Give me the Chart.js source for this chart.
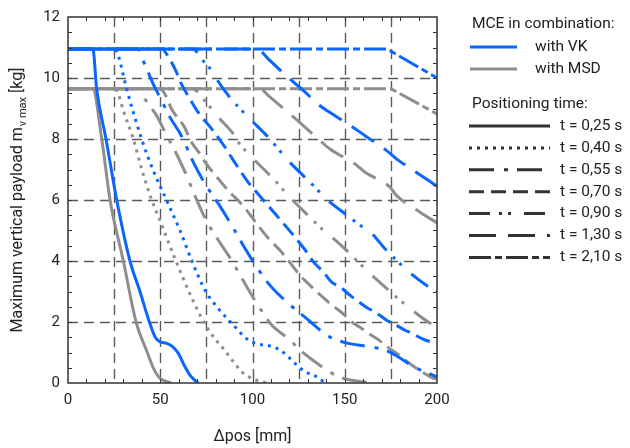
<!DOCTYPE html>
<html>
<head>
<meta charset="utf-8">
<script src="https://cdn.jsdelivr.net/npm/chart.js@4.4.0/dist/chart.umd.min.js"></script>
<style>
  html, body { margin: 0; padding: 0; background: #fff; }
</style>
</head>
<body>
<canvas id="chart" width="630" height="448"></canvas>
<script>
// Axis ticks and grid
const xTicks = [0, 50, 100, 150, 200];
const yTicks = [0, 2, 4, 6, 8, 10, 12];
const xGrid = [25, 50, 75, 100, 125, 150, 175];
const yGrid = [2, 4, 6, 8, 10];

const timeLabels = ['t = 0,25 s', 't = 0,40 s', 't = 0,55 s', 't = 0,70 s', 't = 0,90 s', 't = 1,30 s', 't = 2,10 s'];

// MCE with VK  [Δpos mm, payload kg]
const vk025 = [[0,10.95],[13.5,10.95],[15.5,9.65],[20.6,8],[26.4,6],[33.6,4],[39,3],[44.1,2],[47.2,1.51],[49.9,1.35],[53.5,1.3],[56.5,1.2],[59.8,0.97],[63.4,0.53],[66.1,0.26],[68.5,0.1],[70.5,0]];
const vk040 = [[0,10.95],[25.5,10.95],[27.3,10.73],[31.8,9.64],[39.9,8],[46,7],[53.5,5.98],[60.7,5.0],[67,4.02],[74.3,3.04],[81.5,2.44],[89.6,1.9],[97.7,1.41],[103.1,1.28],[109.5,1.21],[114.9,1.08],[119.4,0.86],[124,0.59],[128.5,0.37],[134,0.23],[139.5,0]];
const vk055 = [[0,10.95],[38,10.95],[40.8,10.56],[43.5,10.18],[46.2,9.8],[49.9,9.36],[55.3,8.71],[61.5,8.1],[67.9,7.24],[74.3,6.53],[81.5,5.88],[88.7,5.17],[95,4.51],[102.3,3.8],[109.5,3.2],[119.4,2.61],[129.4,2.11],[140.2,1.57],[145.6,1.41],[151.9,1.3],[165.5,1.17],[171.8,1.08],[177.2,0.92],[189,0.48],[195.3,0.32],[200,0.2]];
const vk070 = [[0,10.95],[51,10.95],[53.5,10.78],[58.9,10.18],[60.7,9.9],[66.1,9.31],[70.6,8.87],[77.9,8.33],[85.1,7.73],[87.4,7.51],[97.7,6.58],[101.4,6.31],[113.1,5.49],[123,4.78],[129.4,4.29],[133,3.97],[138.4,3.64],[142.9,3.31],[147.4,3.15],[152.8,2.88],[156.5,2.71],[162.8,2.44],[166.4,2.33],[172.7,2.06],[176.3,1.95],[182.7,1.73],[186.3,1.63],[193.5,1.41],[200,1.3]];
const vk090 = [[0,10.95],[68,10.95],[69.8,10.85],[73.3,10.56],[77.9,10.24],[80.6,9.96],[87.8,9.36],[99.6,8.6],[108.6,8.05],[119.4,7.29],[131.2,6.58],[141.1,5.98],[150.1,5.55],[158.3,5.17],[164.7,4.9],[171.8,4.4],[179,3.97],[183.6,3.7],[194.4,3.2],[200,3.02]];
const vk130 = [[0,10.95],[102.5,10.95],[108.6,10.62],[120.3,9.96],[125.7,9.69],[136.6,9.09],[142,8.87],[154.6,8.38],[161,8.11],[172.7,7.62],[178,7.35],[189.9,6.86],[200,6.45]];
const vk210 = [[0,10.95],[173,10.95],[200,10.0]];

// MCE with MSD
const msd025 = [[0,9.65],[13.4,9.65],[18.3,8],[22.8,6],[30,4],[36.9,2],[43,1],[46.2,0.5],[48.5,0.25],[50.5,0.12],[56,0]];
const msd040 = [[0,9.65],[25.5,9.65],[27.3,9.47],[30,8.93],[35.4,8],[40,7],[45.4,6],[50,5.3],[58.5,4],[65.2,3.04],[72.5,2.12],[78.8,1.51],[83.3,1.19],[89.6,0.7],[94.1,0.37],[98,0.2],[104,0.06],[109,0]];
const msd055 = [[0,9.65],[39,9.65],[41.7,9.31],[43.5,9.15],[48.1,8.76],[51.7,8.33],[58.9,7.5],[64.3,6.8],[69.4,6.05],[75.2,5.3],[81.5,4.68],[88.7,4.02],[92.3,3.64],[95.9,3.26],[102.3,2.61],[105.9,2.28],[110.4,1.9],[120.3,1.41],[124.8,1.13],[130.2,0.86],[140.2,0.43],[146.5,0.21],[152.8,0.1],[166.4,0]];
const msd070 = [[0,9.65],[50,9.65],[53.5,9.36],[56,9.0],[63,8.4],[67,7.89],[71.5,7.51],[74.3,7.24],[80,6.8],[87.8,6.25],[92.3,5.98],[96.9,5.66],[102.3,5.22],[109.5,4.68],[114.9,4.35],[119.4,4.02],[125.7,3.53],[130.2,3.26],[134.8,2.99],[141,2.66],[145.6,2.44],[150.1,2.22],[153.8,2.0],[159.2,1.79],[162.8,1.63],[169.1,1.38],[172.7,1.2],[178.2,0.97],[186.3,0.59],[196.2,0.21],[200,0.12]];
const msd090 = [[0,9.65],[67.5,9.65],[73.3,9.31],[77.9,8.98],[81.5,8.71],[89.6,8.17],[92.3,7.9],[102.3,7.24],[110.4,6.75],[120.3,6.09],[130.2,5.49],[136.6,5.11],[142,4.84],[150.1,4.4],[158.3,3.91],[162.8,3.64],[171.8,3.15],[180,2.71],[184.4,2.49],[195.3,2.0],[200,1.85]];
const msd130 = [[0,9.65],[104,9.65],[108.6,9.42],[120.3,8.82],[125.7,8.54],[136.6,7.95],[142,7.67],[155.6,7.18],[161,6.91],[174.5,6.42],[178,6.15],[190.8,5.6],[200,5.25]];
const msd210 = [[0,9.65],[175,9.65],[200,8.82]];

const vkSeries = [vk025, vk040, vk055, vk070, vk090, vk130, vk210];
const msdSeries = [msd025, msd040, msd055, msd070, msd090, msd130, msd210];

const BLUE = '#0a66ff';
const GREY = '#8e8e8e';
const INK = '#222';
// one dash pattern per positioning time
const dashes = [[], [3, 5], [25, 10, 4, 9], [15, 7], [21, 9, 3, 6, 3, 13], [27, 12], [22, 4, 7, 4]];

function toPoints(arr) {
  return arr.map(p => ({ x: p[0], y: p[1] }));
}

function makeSet(label, s, color, i) {
  const straight = s.length < 4; // plateau + straight ramp
  return {
    label: label + ', ' + timeLabels[i],
    data: toPoints(s),
    borderColor: color,
    borderWidth: 3,
    borderDash: dashes[i],
    pointRadius: 0,
    showLine: true,
    tension: 0,
    cubicInterpolationMode: straight ? 'default' : 'monotone'
  };
}

const datasets = [];
// VK first so it is drawn on top
vkSeries.forEach((s, i) => datasets.push(makeSet('with VK', s, BLUE, i)));
msdSeries.forEach((s, i) => datasets.push(makeSet('with MSD', s, GREY, i)));

const framePlugin = {
  id: 'frame',
  beforeDatasetsDraw(chart) {
    const { ctx, chartArea: a, scales: { x, y } } = chart;
    ctx.save();
    ctx.strokeStyle = '#5a5a5a';
    ctx.lineWidth = 1.4;
    ctx.setLineDash([10, 6]);
    xGrid.forEach(v => {
      const px = Math.round(x.getPixelForValue(v)) + 0.5;
      ctx.beginPath();
      ctx.moveTo(px, a.top);
      ctx.lineTo(px, a.bottom);
      ctx.stroke();
    });
    yGrid.forEach(v => {
      const py = Math.round(y.getPixelForValue(v)) + 0.5;
      ctx.beginPath();
      ctx.moveTo(a.left, py);
      ctx.lineTo(a.right, py);
      ctx.stroke();
    });
    ctx.restore();
  },
  afterDatasetsDraw(chart) {
    const { ctx, chartArea: a, scales: { x, y } } = chart;
    ctx.save();
    ctx.strokeStyle = '#333';
    ctx.lineWidth = 1;
    // minor ticks, inside on all four sides
    for (let v = 10; v < 200; v += 10) {
      const px = Math.round(x.getPixelForValue(v)) + 0.5;
      ctx.beginPath();
      ctx.moveTo(px, a.bottom); ctx.lineTo(px, a.bottom - 4);
      ctx.moveTo(px, a.top); ctx.lineTo(px, a.top + 4);
      ctx.stroke();
    }
    for (let v = 0.5; v < 12; v += 0.5) {
      const py = Math.round(y.getPixelForValue(v)) + 0.5;
      ctx.beginPath();
      ctx.moveTo(a.left, py); ctx.lineTo(a.left + 4, py);
      ctx.moveTo(a.right, py); ctx.lineTo(a.right - 4, py);
      ctx.stroke();
    }
    ctx.lineWidth = 1.5;
    ctx.strokeRect(a.left, a.top, a.right - a.left, a.bottom - a.top);
    ctx.restore();
  },
  afterDraw(chart) {
    const { ctx, chartArea: a } = chart;
    ctx.save();
    ctx.fillStyle = INK;
    ctx.textBaseline = 'middle';

    // x title
    ctx.font = '16px Roboto';
    ctx.textAlign = 'center';
    ctx.fillText('Δpos [mm]', (a.left + a.right) / 2, 437);

    // y title with subscript
    ctx.translate(18, (a.top + a.bottom) / 2);
    ctx.rotate(-Math.PI / 2);
    ctx.textAlign = 'left';
    const t1 = 'Maximum vertical payload m', t2 = 'v max', t3 = ' [kg]';
    ctx.font = '16px Roboto';
    const w1 = ctx.measureText(t1).width, w3 = ctx.measureText(t3).width;
    ctx.font = '11px Roboto';
    const w2 = ctx.measureText(t2).width + 1;
    let cx = -(w1 + w2 + w3) / 2;
    ctx.font = '16px Roboto';
    ctx.fillText(t1, cx, 0);
    cx += w1;
    ctx.font = '11px Roboto';
    ctx.fillText(t2, cx + 1, 5);
    cx += w2;
    ctx.font = '16px Roboto';
    ctx.fillText(t3, cx, 0);
    ctx.restore();

    // legend
    ctx.save();
    ctx.textBaseline = 'middle';
    ctx.textAlign = 'left';
    ctx.font = '15.5px Roboto';
    ctx.fillStyle = INK;
    ctx.lineWidth = 3;
    const line = (x0, x1, yy, color, dash) => {
      ctx.strokeStyle = color;
      ctx.setLineDash(dash);
      ctx.beginPath();
      ctx.moveTo(x0, yy);
      ctx.lineTo(x1, yy);
      ctx.stroke();
    };
    ctx.fillText('MCE in combination:', 472, 24);
    line(470, 517, 47, BLUE, []);
    ctx.fillText('with VK', 535, 47);
    line(470, 517, 69, GREY, []);
    ctx.fillText('with MSD', 535, 69);
    ctx.fillText('Positioning time:', 472, 104);
    timeLabels.forEach((lbl, i) => {
      const yy = 126 + i * 21.9;
      line(469, 550, yy, '#333', dashes[i]);
      ctx.fillText(lbl, 560, yy);
    });
    ctx.restore();
  }
};

new Chart(document.getElementById('chart'), {
  type: 'scatter',
  data: { datasets: datasets },
  plugins: [framePlugin],
  options: {
    responsive: false,
    animation: false,
    devicePixelRatio: 1,
    layout: { padding: { left: 0, top: 16, right: 193, bottom: 0 } },
    plugins: {
      legend: { display: false },
      tooltip: { enabled: false }
    },
    scales: {
      x: {
        type: 'linear',
        min: 0,
        max: 200,
        afterFit: s => { s.height = 65; },
        afterBuildTicks: s => { s.ticks = xTicks.map(v => ({ value: v })); },
        ticks: { color: INK, font: { family: 'Roboto', size: 15 }, padding: 8 },
        grid: { display: false, drawTicks: false },
        border: { display: false }
      },
      y: {
        type: 'linear',
        min: 0,
        max: 12,
        afterFit: s => { s.width = 68; },
        afterBuildTicks: s => { s.ticks = yTicks.map(v => ({ value: v })); },
        ticks: { color: INK, font: { family: 'Roboto', size: 15 }, padding: 8 },
        grid: { display: false, drawTicks: false },
        border: { display: false }
      }
    }
  }
});
</script>
</body>
</html>
